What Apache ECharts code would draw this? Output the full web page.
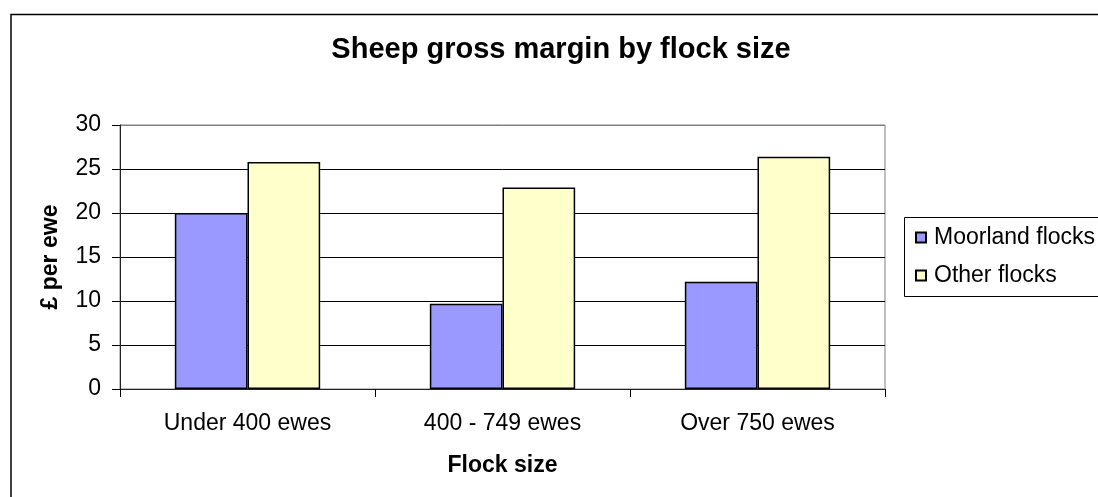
<!DOCTYPE html>
<html>
<head>
<meta charset="utf-8">
<title>Sheep gross margin by flock size</title>
<script src="https://cdn.jsdelivr.net/npm/echarts@6/dist/echarts.min.js"></script>
<style>
  html, body { margin: 0; padding: 0; background: #fff; }
  #chart { width: 1098px; height: 497px; }
</style>
</head>
<body>
<div id="chart"></div>
<script>
// Flock size groups and £ per ewe for each type of flock
const categories = ['Under 400 ewes', '400 - 749 ewes', 'Over 750 ewes'];
const seriesNames = ['Moorland flocks', 'Other flocks'];
const moorland = [20.0, 9.7, 12.2];
const other = [25.8, 22.9, 26.4];
const yTicks = { min: 0, max: 30, step: 5 };

const FONT = '"Liberation Sans", Arial, sans-serif';

const chart = echarts.init(document.getElementById('chart'), null, { renderer: 'canvas' });

// grid lines are black; the top one sits on the grey plot-area border
const gridColors = ['#000', '#000', '#000', '#000', '#000', '#000', '#808080'];

chart.setOption({
  animation: false,
  backgroundColor: '#fff',
  textStyle: { fontFamily: FONT, color: '#000' },
  graphic: [
    {
      type: 'rect',
      z: -10,
      shape: { x: 11, y: 14.5, width: 1200, height: 600 },
      style: { fill: null, stroke: '#000', lineWidth: 1.5 }
    },
    {
      type: 'text',
      x: 561,
      y: 35,
      style: {
        text: 'Sheep gross margin by flock size',
        textAlign: 'center',
        textVerticalAlign: 'top',
        fontFamily: FONT,
        fontWeight: 'bold',
        fontSize: 29,
        fill: '#000'
      }
    },
    {
      type: 'rect',
      z: -5,
      shape: { x: 904.5, y: 217.5, width: 300, height: 79 },
      style: { fill: '#fff', stroke: '#000', lineWidth: 1 }
    }
  ],
  legend: {
    orient: 'vertical',
    left: 915,
    top: 226,
    padding: 0,
    itemWidth: 10,
    itemHeight: 10,
    itemGap: 15,
    icon: 'rect',
    data: seriesNames,
    textStyle: { fontFamily: FONT, fontSize: 23, color: '#000', padding: [0, 0, 0, 3] }
  },
  grid: {
    left: 120,
    right: 213,
    top: 125,
    bottom: 108,
    show: true,
    borderColor: '#808080',
    borderWidth: 1,
    backgroundColor: 'transparent'
  },
  xAxis: {
    type: 'category',
    data: categories,
    name: 'Flock size',
    nameLocation: 'middle',
    nameGap: 65,
    nameTextStyle: { fontFamily: FONT, fontWeight: 'bold', fontSize: 23, color: '#000' },
    axisLine: { lineStyle: { color: '#222', width: 1 } },
    axisTick: { show: true, length: 8, lineStyle: { color: '#000' } },
    axisLabel: { fontFamily: FONT, fontSize: 23, color: '#000', margin: 23 },
    splitLine: { show: false }
  },
  yAxis: {
    type: 'value',
    min: yTicks.min,
    max: yTicks.max,
    interval: yTicks.step,
    name: '£ per ewe',
    nameLocation: 'middle',
    nameGap: 58,
    nameRotate: 90,
    nameTextStyle: { fontFamily: FONT, fontWeight: 'bold', fontSize: 23, color: '#000' },
    axisLine: { show: true, lineStyle: { color: '#222', width: 1 } },
    axisTick: { show: true, length: 8, lineStyle: { color: '#000' } },
    axisLabel: { fontFamily: FONT, fontSize: 23, color: '#000', margin: 19 },
    splitLine: { show: true, lineStyle: { color: gridColors, width: 1 } }
  },
  series: [
    {
      name: seriesNames[0],
      type: 'bar',
      data: moorland,
      barGap: '0%',
      barCategoryGap: '43%',
      itemStyle: { color: '#9999FF', borderColor: '#000', borderWidth: 1.5 }
    },
    {
      name: seriesNames[1],
      type: 'bar',
      data: other,
      barGap: '0%',
      barCategoryGap: '43%',
      itemStyle: { color: '#FFFFCC', borderColor: '#000', borderWidth: 1.5 }
    }
  ]
});
</script>
</body>
</html>
